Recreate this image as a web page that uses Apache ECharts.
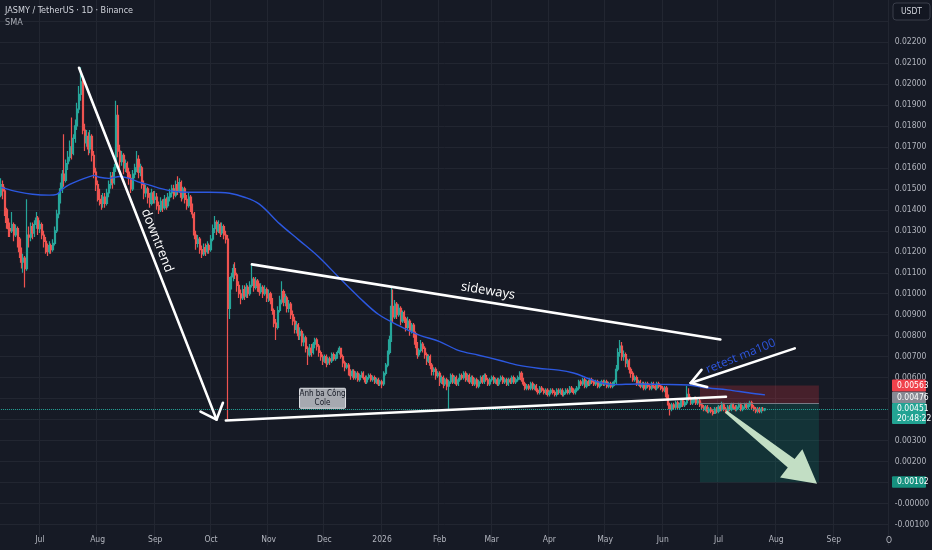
<!DOCTYPE html>
<html><head><meta charset="utf-8">
<script src="https://cdn.jsdelivr.net/npm/echarts@6/dist/echarts.min.js"></script>
<style>html,body{margin:0;padding:0;background:#161a25;}#c{width:932px;height:550px;}</style>
</head><body><div id="c"></div>
<script>
// ---------- calendar ----------
const startDate = '2025-06-10', endDate = '2026-09-30';
const monthNames = ['Jan','Feb','Mar','Apr','May','Jun','Jul','Aug','Sep','Oct','Nov','Dec'];
// ---------- daily candles: [close, low, high]; open = previous close ----------
const firstOpen = 0.0147;
const jun25 = [[.0152,.0146,.0155],[.0149,.0145,.0154],[.0140,.0137,.0151],[.0134,.0131,.0141],[.0131,.0127,.0136],[.0130,.0127,.0134],[.0133,.0129,.0139],[.0128,.0125,.0134],[.0131,.0127,.0133],[.0126,.0122,.0132],[.0120,.0117,.0127],[.0115,.0112,.0122],[.0117,.0110,.0119],[.0112,.0103,.0118],[.0128,.0111,.0145],[.0127,.0122,.0132],[.0132,.0125,.0134],[.0129,.0126,.0134],[.0133,.0127,.0135],[.0136,.0131,.0139],[.0131,.0128,.0137]];
const jul25 = [[.0133,.0129,.0135],[.0128,.0126,.0134],[.0125,.0122,.0130],[.0122,.0119,.0127],[.0120,.0118,.0124],[.0123,.0119,.0125],[.0121,.0119,.0124],[.0124,.0120,.0126],[.0130,.0123,.0132],[.0138,.0129,.0140],[.0146,.0136,.0148],[.0150,.0143,.0153],[.0157,.0148,.0159],[.0154,.0151,.0176],[.0162,.0153,.0164],[.0165,.0159,.0168],[.0170,.0163,.0173],[.0167,.0164,.0184],[.0174,.0166,.0176],[.0180,.0172,.0183],[.0188,.0178,.0191],[.0195,.0186,.0199],[.0201,.0192,.0208],[.0178,.0176,.0203],[.0172,.0168,.0181],[.0175,.0170,.0178],[.0169,.0166,.0177],[.0175,.0167,.0178],[.0166,.0163,.0176],[.0158,.0155,.0168],[.0152,.0149,.0160]];
const aug25 = [[.0148,.0144,.0154],[.0145,.0142,.0150],[.0143,.0140,.0147],[.0146,.0141,.0148],[.0143,.0141,.0148],[.0148,.0142,.0150],[.0152,.0146,.0154],[.0156,.0150,.0158],[.0153,.0150,.0158],[.0160,.0152,.0162],[.0185,.0158,.0192],[.0168,.0165,.0190],[.0163,.0160,.0171],[.0166,.0161,.0168],[.0160,.0157,.0167],[.0162,.0158,.0164],[.0158,.0155,.0163],[.0155,.0152,.0160],[.0150,.0148,.0157],[.0157,.0149,.0159],[.0160,.0155,.0162],[.0164,.0158,.0168],[.0158,.0155,.0166],[.0160,.0156,.0162],[.0152,.0150,.0161],[.0148,.0145,.0154],[.0150,.0146,.0152],[.0146,.0143,.0151],[.0143,.0141,.0148],[.0148,.0142,.0150],[.0145,.0143,.0149]];
const sep25 = [[.0146,.0143,.0149],[.0142,.0140,.0148],[.0140,.0138,.0144],[.0144,.0139,.0146],[.0141,.0139,.0145],[.0145,.0140,.0147],[.0142,.0140,.0146],[.0146,.0141,.0148],[.0148,.0144,.0150],[.0150,.0146,.0152],[.0147,.0145,.0152],[.0152,.0146,.0154],[.0149,.0147,.0156],[.0153,.0148,.0155],[.0146,.0144,.0154],[.0150,.0145,.0151],[.0145,.0143,.0151],[.0142,.0140,.0147],[.0146,.0141,.0148],[.0141,.0139,.0147],[.0138,.0136,.0143],[.0128,.0126,.0139],[.0124,.0121,.0130],[.0126,.0122,.0128],[.0121,.0119,.0127],[.0119,.0117,.0123],[.0122,.0118,.0124],[.0120,.0118,.0124],[.0123,.0119,.0125],[.0121,.0119,.0124]];
const oct25 = [[.0126,.0120,.0128],[.0131,.0125,.0133],[.0134,.0129,.0137],[.0130,.0128,.0135],[.0133,.0129,.0135],[.0129,.0127,.0134],[.0132,.0128,.0134],[.0128,.0126,.0133],[.0126,.0124,.0130],[.0093,.0040,.0128],[.0105,.0088,.0108],[.0108,.0102,.0110],[.0112,.0106,.0114],[.0109,.0107,.0115],[.0104,.0101,.0110],[.0100,.0098,.0106],[.0098,.0095,.0102],[.0102,.0097,.0104],[.0099,.0097,.0104],[.0103,.0098,.0105],[.0100,.0098,.0104],[.0104,.0099,.0106],[.0107,.0103,.0114],[.0103,.0101,.0108],[.0106,.0102,.0108],[.0104,.0101,.0107],[.0101,.0099,.0105],[.0103,.0100,.0105],[.0100,.0098,.0104],[.0102,.0099,.0104],[.0098,.0096,.0103]];
const nov25 = [[.0100,.0096,.0102],[.0097,.0095,.0101],[.0092,.0090,.0098],[.0086,.0084,.0093],[.0084,.0078,.0088],[.0092,.0083,.0094],[.0097,.0091,.0099],[.0101,.0095,.0106],[.0096,.0094,.0102],[.0098,.0094,.0100],[.0093,.0091,.0099],[.0095,.0091,.0097],[.0090,.0088,.0096],[.0087,.0085,.0092],[.0083,.0081,.0089],[.0085,.0081,.0087],[.0080,.0078,.0086],[.0082,.0078,.0084],[.0077,.0075,.0083],[.0079,.0075,.0081],[.0074,.0072,.0080],[.0071,.0066,.0075],[.0074,.0070,.0076],[.0072,.0070,.0076],[.0076,.0071,.0077],[.0078,.0074,.0079],[.0075,.0073,.0079],[.0072,.0070,.0076],[.0070,.0068,.0073],[.0068,.0066,.0071]];
const dec25 = [[.0070,.0067,.0071],[.0067,.0065,.0071],[.0069,.0066,.0070],[.0068,.0066,.0070],[.0071,.0067,.0072],[.0069,.0068,.0072],[.0070,.0068,.0071],[.0072,.0069,.0073],[.0074,.0071,.0075],[.0070,.0069,.0074],[.0067,.0065,.0071],[.0065,.0063,.0068],[.0066,.0064,.0067],[.0063,.0061,.0067],[.0061,.0059,.0064],[.0063,.0060,.0064],[.0060,.0059,.0064],[.0062,.0059,.0063],[.0059,.0058,.0063],[.0061,.0058,.0062],[.0062,.0060,.0063],[.0060,.0059,.0063],[.0058,.0057,.0061],[.0060,.0057,.0061],[.0061,.0059,.0062],[.0059,.0058,.0062],[.0060,.0058,.0061],[.0058,.0057,.0061],[.0059,.0057,.0060],[.0057,.0056,.0060],[.0058,.0056,.0059]];
const jan26 = [[.0057,.0055,.0059],[.0062,.0056,.0063],[.0066,.0061,.0067],[.0072,.0065,.0073],[.0078,.0071,.0080],[.0094,.0077,.0103],[.0089,.0086,.0102],[.0095,.0088,.0097],[.0090,.0088,.0096],[.0093,.0089,.0095],[.0087,.0085,.0094],[.0091,.0086,.0092],[.0088,.0086,.0092],[.0084,.0082,.0089],[.0087,.0083,.0089],[.0082,.0080,.0088],[.0085,.0081,.0086],[.0081,.0079,.0086],[.0076,.0074,.0082],[.0071,.0069,.0077],[.0073,.0070,.0074],[.0076,.0072,.0078],[.0074,.0072,.0077],[.0071,.0069,.0075],[.0068,.0066,.0072],[.0070,.0067,.0071],[.0066,.0064,.0071],[.0063,.0061,.0067],[.0064,.0061,.0065],[.0061,.0059,.0065],[.0062,.0060,.0063]];
const feb26 = [[.0058,.0056,.0063],[.0060,.0057,.0061],[.0057,.0055,.0061],[.0059,.0056,.0060],[.0056,.0054,.0060],[.0058,.00452,.0059],[.0061,.0057,.0062],[.0058,.0057,.0062],[.0060,.0057,.0061],[.0057,.0056,.0061],[.0059,.0056,.0060],[.0061,.0058,.0062],[.0060,.0059,.0062],[.0062,.0059,.0063],[.0059,.0058,.0063],[.0061,.0058,.0062],[.0058,.0057,.0062],[.0060,.0057,.0061],[.0057,.0056,.0061],[.0059,.0056,.0060],[.0056,.0055,.0060],[.0058,.0055,.0059],[.0060,.0057,.0061],[.0058,.0057,.0061],[.0061,.0057,.0062],[.0059,.0058,.0062],[.0057,.0056,.0060],[.0059,.0056,.0060]];
const mar26 = [[.0060,.0058,.0061],[.0058,.0057,.0061],[.0059,.0057,.0060],[.0057,.0056,.0060],[.0059,.0056,.0060],[.0060,.0058,.0061],[.0058,.0057,.0061],[.0059,.0057,.0060],[.0057,.0056,.0060],[.0059,.0056,.0060],[.0058,.0057,.0060],[.0060,.0057,.0061],[.0058,.0057,.0061],[.0059,.0057,.0060],[.0060,.0058,.0061],[.0062,.0059,.0063],[.0059,.0058,.0063],[.0057,.0056,.0060],[.0055,.0054,.0058],[.0056,.0054,.0057],[.0055,.0054,.0057],[.0057,.0054,.0058],[.0055,.0054,.0058],[.0056,.0054,.0057],[.0054,.0053,.0057],[.0053,.0052,.0055],[.0055,.0052,.0056],[.0054,.0053,.0056],[.0053,.0052,.0055],[.0054,.0052,.0055],[.0052,.0051,.0055]];
const apr26 = [[.0053,.0051,.0054],[.0054,.0052,.0055],[.0053,.0052,.0055],[.0052,.0051,.0054],[.0054,.0051,.0055],[.0053,.0052,.0055],[.0054,.0052,.0055],[.0052,.0051,.0055],[.0053,.0051,.0054],[.0054,.0052,.0055],[.0053,.0052,.0055],[.0055,.0052,.0056],[.0054,.0053,.0056],[.0053,.0052,.0055],[.0054,.0052,.0055],[.0055,.0053,.0056],[.0058,.0054,.0059],[.0057,.0056,.0059],[.0059,.0056,.0060],[.0056,.0055,.0060],[.0058,.0055,.0059],[.0057,.0056,.0059],[.0059,.0056,.0060],[.0058,.0057,.0060],[.0057,.0056,.0059],[.0058,.0056,.0059],[.0056,.0055,.0059],[.0057,.0055,.0058],[.0058,.0056,.0059],[.0057,.0056,.0059]];
const may26 = [[.0058,.0056,.0059],[.0056,.0055,.0059],[.0057,.0055,.0058],[.0056,.0055,.0058],[.0057,.0055,.0058],[.0058,.0056,.0059],[.0064,.0057,.0066],[.0072,.0063,.0074],[.0075,.0070,.0078],[.0070,.0068,.0077],[.0071,.0068,.0073],[.0067,.0065,.0072],[.0068,.0065,.0069],[.0064,.0062,.0069],[.0062,.0060,.0065],[.0059,.0058,.0063],[.0060,.0058,.0061],[.0057,.0056,.0061],[.0058,.0056,.0059],[.0056,.0055,.0059],[.0057,.0055,.0058],[.0055,.0054,.0058],[.0057,.0054,.0058],[.0056,.0055,.0058],[.0055,.0054,.0057],[.0057,.0054,.0058],[.0056,.0055,.0058],[.0055,.0054,.0057],[.0057,.0054,.0058],[.0056,.0055,.0058],[.0055,.0054,.0057]];
const jun26 = [[.0054,.0053,.0056],[.0055,.0053,.0056],[.0051,.0050,.0056],[.0047,.0045,.0052],[.0045,.0042,.0048],[.0047,.0044,.0048],[.0046,.0045,.0048],[.0048,.0045,.0049],[.0046,.0045,.0049],[.0047,.0045,.0048],[.0049,.0046,.0050],[.0047,.0046,.0050],[.0048,.0046,.0049],[.0052,.0047,.0056],[.0050,.0049,.0055],[.0048,.0047,.0051],[.0049,.0047,.0050],[.0050,.0048,.0051],[.0048,.0047,.0051],[.0049,.0047,.0050],[.0047,.0046,.0050],[.0046,.0045,.0048],[.0045,.0044,.0047],[.0046,.0044,.0047],[.0044,.0043,.0047],[.0045,.0043,.0046],[.0044,.0043,.0046],[.0043,.0042,.0045],[.0045,.0043,.0046],[.0044,.0043,.0046]];
const jul26 = [[.0046,.0043,.0047],[.0045,.0044,.0047],[.0047,.0044,.00485],[.0045,.0044,.0048],[.0044,.0043,.0046],[.0046,.0043,.0047],[.0045,.0044,.0047],[.0047,.0044,.0048],[.0046,.0045,.0048],[.0045,.0044,.0047],[.0046,.0044,.0047],[.0047,.0045,.0048],[.0045,.0044,.0048],[.0046,.0044,.0047],[.0047,.0045,.0048],[.0046,.0045,.0048],[.0047,.0045,.0048],[.0048,.0046,.0049],[.0046,.0045,.0049],[.0045,.0044,.0047],[.0044,.0043,.0046],[.0045,.0043,.0046],[.0044,.0043,.0046],[.0045,.0043,.0046],[.00446,.0044,.0046],[.00451,.0044,.00455]];
const monthBlocks = [['2025-06-10',jun25],['2025-07-01',jul25],['2025-08-01',aug25],['2025-09-01',sep25],['2025-10-01',oct25],['2025-11-01',nov25],['2025-12-01',dec25],['2026-01-01',jan26],['2026-02-01',feb26],['2026-03-01',mar26],['2026-04-01',apr26],['2026-05-01',may26],['2026-06-01',jun26],['2026-07-01',jul26]];
// ---------- SMA ----------
const smaIdx = [0,10,17,26,30,33,37,42,48,50,53,58,64,69,75,80,85,93,101,112,123,131,139,150,160,171,182,193,203,214,225,236,246,257,268,278,289,300,308,316,321,329,343,354,370,378,391,402,411];
const smaVal = [.01507,.01484,.01474,.0147,.01474,.01498,.01521,.0154,.01559,.01564,.01555,.0155,.01559,.0155,.0153,.01518,.01503,.01488,.01484,.01484,.01479,.0146,.01427,.01333,.01258,.01175,.01076,.0098,.00902,.00848,.00803,.00772,.0073,.00707,.00683,.0066,.00645,.00636,.00622,.00596,.0058,.00567,.0057,.00568,.00565,.00553,.00542,.00528,.00518];
// ---------- position tool & price tags ----------
const lastPrice = 0.00451, entryPrice = 0.00476, stopPrice = 0.00563, targetPrice = 0.00102;
const posFromIdx = 376, posToIdx = 440;
// ---------- drawings, anchored as [dayIndex, price] ----------
const downtrend = {from:[42,0.02077], to:[116,0.00400], label:[84,0.01253]};
const supportLine = {from:[121,0.003957], to:[390,0.005087]};
const sidewaysLine = {from:[135,0.011399], to:[387,0.007819], label:[262,0.01013]};
const retestArrow = {from:[427,0.007395], to:[371,0.005747], label:[398,0.00702]};
const targetArrow = {from:[390,0.004381], to:[439,0.000942]};
const noteAnchor = [173,0.005017];

// ---------- build ----------
function fmt(d){return d.toISOString().slice(0,10);}
const dates = [];
for (let d = new Date(startDate+'T00:00:00Z'); fmt(d) <= endDate; d.setUTCDate(d.getUTCDate()+1)) dates.push(fmt(d));
const dIdx = {}; dates.forEach((d,i)=>dIdx[d]=i);
const ohlc = [];
let prev = firstOpen;
monthBlocks.forEach(([s, rows])=>{
  let i = dIdx[s];
  rows.forEach(([c,l,h])=>{ const o = prev; ohlc[i] = [o, c, Math.min(l,o,c), Math.max(h,o,c)]; prev = c; i++; });
});
for (let i=0;i<ohlc.length;i++) if(!ohlc[i]) ohlc[i]='-';
const smaData = smaIdx.map((i,k)=>[dates[i], smaVal[k]]);

const F = "'Liberation Sans Narrow','DejaVu Sans Condensed','Roboto Condensed',Roboto,sans-serif";
const LBL = '#b2b5be', GRID = '#222631', UP = '#26a69a', DOWN = '#ef5350';
const isMonthStart = (i,v)=> typeof v==='string' && v.slice(8)==='01';

const option = {
  backgroundColor:'#161a25',
  animation:false,
  grid:{left:0,right:41,top:-6.5,bottom:4.5},
  xAxis:{type:'category',data:dates,boundaryGap:true,offset:-12,
    axisLine:{show:false},axisTick:{show:false},
    axisLabel:{interval:isMonthStart,color:LBL,fontSize:8.5,fontFamily:F,margin:2,
      formatter:v=>{const m=+v.slice(5,7);return m===1?v.slice(0,4):monthNames[m-1];}},
    splitLine:{show:true,interval:isMonthStart,lineStyle:{color:GRID,width:1}}},
  yAxis:{type:'value',position:'right',min:-0.002,max:0.024,interval:0.001,
    axisLine:{show:false},axisTick:{show:false},
    axisLabel:{color:LBL,fontSize:8.5,fontFamily:F,margin:6,align:'left',
      formatter:v=>{ if(v< -0.0015 || v>0.0225) return ''; return v<=1e-9 ? '-'+Math.abs(v).toFixed(5) : v.toFixed(5);}},
    splitLine:{show:true,showMinLine:false,showMaxLine:false,lineStyle:{color:GRID,width:1}}},
  series:[
    {type:'candlestick',data:ohlc,barWidth:'85%',z:2,
      itemStyle:{color:UP,color0:DOWN,borderColor:UP,borderColor0:DOWN,borderWidth:1.2},
      markArea:{silent:true,data:[
        [{xAxis:dates[posFromIdx],yAxis:entryPrice,itemStyle:{color:'rgba(242,54,69,0.22)'}},{xAxis:dates[posToIdx],yAxis:stopPrice}],
        [{xAxis:dates[posFromIdx],yAxis:targetPrice,itemStyle:{color:'rgba(8,153,129,0.2)'}},{xAxis:dates[posToIdx],yAxis:entryPrice}]
      ]},
      markLine:{silent:true,symbol:'none',animation:false,label:{show:false},data:[
        [{coord:[dates[0],lastPrice],lineStyle:{type:'dotted',color:UP,width:1}},{coord:[dates[dates.length-1],lastPrice]}],
        [{coord:[dates[posFromIdx],entryPrice],lineStyle:{type:'solid',color:'#787b86',width:1}},{coord:[dates[posToIdx],entryPrice]}]
      ]}},
    {type:'line',data:smaData,smooth:0.35,showSymbol:false,z:3,lineStyle:{color:'#2c58e0',width:1.4},silent:true}
  ]
};

const chart = echarts.init(document.getElementById('c'));
chart.setOption(option);

function P(a){return chart.convertToPixel({gridIndex:0},[dates[a[0]],a[1]]);}
const g = [];
const WHITE = '#ffffff';
function seg(a,b,w,color){g.push({type:'line',z:100,shape:{x1:a[0],y1:a[1],x2:b[0],y2:b[1]},style:{stroke:color,lineWidth:w,lineCap:'round'}});}
function head(tip,tail,deg,len,w,color){
  const dx=tail[0]-tip[0],dy=tail[1]-tip[1],L=Math.hypot(dx,dy),ux=dx/L,uy=dy/L,r=deg*Math.PI/180;
  const rot=a=>[tip[0]+len*(ux*Math.cos(a)-uy*Math.sin(a)),tip[1]+len*(ux*Math.sin(a)+uy*Math.cos(a))];
  g.push({type:'polyline',z:100,shape:{points:[rot(r),tip,rot(-r)]},style:{stroke:color,lineWidth:w,fill:null,lineJoin:'round',lineCap:'round'}});
}
function txt(pt,text,font,color,rot,align,vAlign,z){g.push({type:'text',z:z||101,x:pt[0],y:pt[1],rotation:rot||0,style:{text:text,fill:color,font:font,align:align||'center',verticalAlign:vAlign||'middle'}});}
const ang=(a,b)=>Math.atan2(b[1]-a[1],b[0]-a[0]);

// downtrend arrow
{const a=P(downtrend.from),b=P(downtrend.to);seg(a,b,2.6,WHITE);head(b,a,42,18,2.6,WHITE);
 txt(P(downtrend.label),'downtrend','13px "Open Sans"',WHITE,-ang(a,b));}
// support line
{const a=P(supportLine.from),b=P(supportLine.to);seg(a,b,2.6,WHITE);}
// sideways line
{const a=P(sidewaysLine.from),b=P(sidewaysLine.to);seg(a,b,2.6,WHITE);
 txt(P(sidewaysLine.label),'sideways','13px "Open Sans"',WHITE,-ang(a,b));}
// retest arrow
{const a=P(retestArrow.from),b=P(retestArrow.to);seg(a,b,2.6,WHITE);head(b,a,32,17,2.6,WHITE);
 txt(P(retestArrow.label),'retest ma100','12px "Open Sans"','#2d55dd',22*Math.PI/180);}
// big target arrow
{const t0=P(targetArrow.from),t1=P(targetArrow.to);
 const dx=t1[0]-t0[0],dy=t1[1]-t0[1],L=Math.hypot(dx,dy),ux=dx/L,uy=dy/L,px=-uy,py=ux;
 const pt=(t,s)=>[t0[0]+ux*t+px*s,t0[1]+uy*t+py*s];const hb=L-33;
 g.push({type:'polygon',z:99,shape:{points:[pt(0,-1.5),pt(hb,-5.5),pt(hb,-18),pt(L,0),pt(hb,18),pt(hb,5.5),pt(0,1.5)]},style:{fill:'#cbe8cb',opacity:0.95}});}
// note box
{const c=P(noteAnchor);
 g.push({type:'rect',z:100,shape:{x:c[0]-23,y:c[1]-10,width:46,height:20,r:1},style:{fill:'#a6a9b0',stroke:'#dfe1e6',lineWidth:1}});
 txt([c[0],c[1]-4.5],'Anh ba Công','8px '+F,'#131722');
 txt([c[0],c[1]+4.5],'Cole','8px '+F,'#131722');}
// title
txt([5,11],'JASMY / TetherUS · 1D · Binance','9px '+F,'#d1d4dc',0,'left');
txt([5,23],'SMA','9px '+F,'#a9acb5',0,'left');
// USDT box
g.push({type:'rect',z:100,shape:{x:893,y:3,width:37,height:17,r:3},style:{fill:'#131722',stroke:'#3a3e4a',lineWidth:1}});
txt([911.5,11.5],'USDT','8.5px '+F,'#d1d4dc');
// clipped Oct label
txt([889,541],'O','8.5px '+F,LBL);
// price tags
function tag(cy,h,fill,lines){
  g.push({type:'rect',z:102,shape:{x:892,y:cy-6,width:34,height:h,r:1},style:{fill:fill}});
  lines.forEach((t,k)=>txt([897,cy+k*10],t,'8.5px '+F,'#ffffff',0,'left','middle',103));
}
tag(P([0,stopPrice])[1],12,'#f0424c',['0.00563']);
tag(P([0,entryPrice])[1]-6,11.5,'#868993',['0.00476']);
tag(P([0,lastPrice])[1],21,'#22a393',['0.00451','20:48:22']);
tag(P([0,targetPrice])[1],11.5,'#16917f',['0.00102']);

chart.setOption({graphic:g});
</script></body></html>
